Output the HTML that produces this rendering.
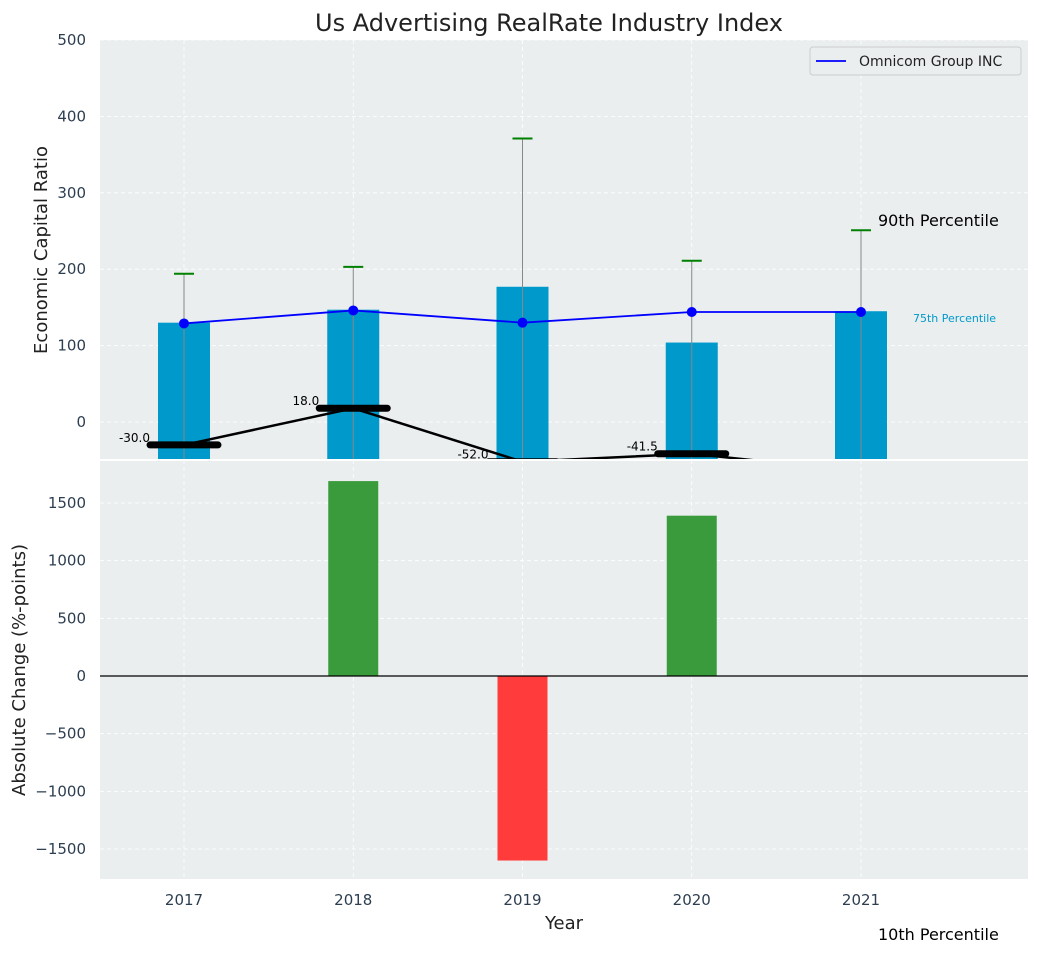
<!DOCTYPE html>
<html><head><meta charset="utf-8"><style>
body{margin:0;background:#fff;font-family:"DejaVu Sans","Liberation Sans",sans-serif}
svg text{font-family:"DejaVu Sans","Liberation Sans",sans-serif}
</style></head><body>
<svg id="c" width="1039" height="954" xmlns="http://www.w3.org/2000/svg"></svg>
<script>
const years=[2017,2018,2019,2020,2021];
const barVals=[130,147,177,104,145];
const lineVals=[129,146,130,144,144];
const p90Vals=[194,203,371,211,251];
const blackVals=[-30,18,-52,-41.5,-65];
const blackLabels=["-30.0","18.0","-52.0","-41.5",""];
const changeVals=[0,1690,-1600,1390,0];
const topTicks=[0,100,200,300,400,500];
const botTicks=[-1500,-1000,-500,0,500,1000,1500];

const svg=document.getElementById('c');
const NS='http://www.w3.org/2000/svg';
function el(t,a,p){const e=document.createElementNS(NS,t);for(const k in a)e.setAttribute(k,a[k]);(p||svg).appendChild(e);return e;}
const L=100,R=1028;
const x=v=>184+(v-2017)*169.25;
const T0=40,T1=460,yT=v=>422-v*0.764;
const B0=460,B1=879,yB=v=>676-v*0.11533;

let bg=el('rect',{x:L,y:T0,width:R-L,height:T1-T0,fill:'#eaeeef'});


let bg2=el('rect',{x:L,y:B0,width:R-L,height:B1-B0,fill:'#eaeeef'});


el('line',{x1:L,x2:R,y1:460,y2:460,stroke:'#fff','stroke-width':2});

el('defs',{}).innerHTML='<clipPath id="ct"><rect x="100" y="40" width="928" height="419"/></clipPath><clipPath id="cb"><rect x="100" y="461" width="928" height="418"/></clipPath>';
const gt=el('g',{'clip-path':'url(#ct)'}),gb=el('g',{'clip-path':'url(#cb)'});

years.forEach(y=>{el('line',{x1:x(y),x2:x(y),y1:T0,y2:T1,stroke:'#fff','stroke-dasharray':'4,3','stroke-width':0.8},gt);el('line',{x1:x(y),x2:x(y),y1:B0,y2:B1,stroke:'#fff','stroke-dasharray':'4,3','stroke-width':0.8},gb);
 const t=el('text',{x:x(y),y:905,'text-anchor':'middle','font-size':15,fill:'#2d3e50'});t.textContent=y;
 });
topTicks.forEach(v=>{el('line',{x1:L,x2:R,y1:yT(v),y2:yT(v),stroke:'#fff','stroke-dasharray':'4,3','stroke-width':0.8},gt);
 const t=el('text',{x:86,y:yT(v)+5,'text-anchor':'end','font-size':15,fill:'#2d3e50'});t.textContent=v;
 });
botTicks.forEach(v=>{el('line',{x1:L,x2:R,y1:yB(v),y2:yB(v),stroke:'#fff','stroke-dasharray':'4,3','stroke-width':0.8},gb);
 const t=el('text',{x:86,y:yB(v)+5,'text-anchor':'end','font-size':15,fill:'#2d3e50'});t.textContent=v<0?'−'+(-v):v;
 });

years.forEach((y,i)=>{const b=el('rect',{x:x(y)-26,y:yT(barVals[i]),width:52,height:yT(-60)-yT(barVals[i]),fill:'#0099cc'},gt);
 });
years.forEach((y,i)=>{el('line',{x1:x(y),x2:x(y),y1:yT(p90Vals[i]),y2:T1,stroke:'#888','stroke-width':1},gt);
 const c=el('line',{x1:x(y)-10,x2:x(y)+10,y1:yT(p90Vals[i]),y2:yT(p90Vals[i]),stroke:'green','stroke-width':2},gt);
 });
const bl=el('polyline',{points:years.map((y,i)=>x(y)+','+yT(lineVals[i])).join(' '),fill:'none',stroke:'blue','stroke-width':1.8},gt);

years.forEach((y,i)=>{const d=el('circle',{cx:x(y),cy:yT(lineVals[i]),r:5,fill:'blue'},gt);
 });
const kl=el('polyline',{points:years.map((y,i)=>x(y)+','+yT(blackVals[i])).join(' '),fill:'none',stroke:'#000','stroke-width':2.5},gt);

years.forEach((y,i)=>{const m=el('line',{x1:x(y)-34,x2:x(y)+34,y1:yT(blackVals[i]),y2:yT(blackVals[i]),stroke:'#000','stroke-width':7,'stroke-linecap':'round'},gt);
 
 if(blackLabels[i]){const t=el('text',{x:x(y)-34,y:yT(blackVals[i])-3,'text-anchor':'end','font-size':12,fill:'#000'});t.textContent=blackLabels[i];
 }});

years.forEach((y,i)=>{if(!changeVals[i])return;const v=changeVals[i];
 const b=el('rect',{x:x(y)-25,y:Math.min(yB(v),yB(0)),width:50,height:Math.abs(yB(v)-yB(0)),fill:v>0?'#3a9b3d':'#ff3b3b'},gb);
 });
el('line',{x1:L,x2:R,y1:yB(0),y2:yB(0),stroke:'#000','stroke-width':1.2});

function txt(s,a,n){const t=el('text',a);t.textContent=s;return t;}
txt('Us Advertising RealRate Industry Index',{x:549,y:31,'text-anchor':'middle','font-size':24,fill:'#222'},'chart-title');
txt('Economic Capital Ratio',{x:47,y:250,'text-anchor':'middle','font-size':18,fill:'#222',transform:'rotate(-90 47 250)'},'top-y-axis-title');
txt('Absolute Change (%-points)',{x:25,y:670,'text-anchor':'middle','font-size':18,fill:'#222',transform:'rotate(-90 25 670)'},'bottom-y-axis-title');
txt('Year',{x:564,y:929,'text-anchor':'middle','font-size':18,fill:'#222'},'x-axis-title');
txt('90th Percentile',{x:878,y:226,'font-size':16,fill:'#000'},'p90-annotation');
txt('75th Percentile',{x:913,y:322,'font-size':11,fill:'#0099cc'},'p75-annotation');
txt('10th Percentile',{x:878,y:940,'font-size':16,fill:'#000'},'p10-annotation');

const lg=el('g',{});
el('rect',{x:810,y:47,width:211,height:28,fill:'#eaeeef',stroke:'#ccc',rx:3},lg);
el('line',{x1:816,x2:846,y1:61,y2:61,stroke:'blue','stroke-width':1.8},lg);
const lt=el('text',{x:859,y:66,'font-size':14,fill:'#222'},lg);lt.textContent='Omnicom Group INC';
</script>
</body></html>
